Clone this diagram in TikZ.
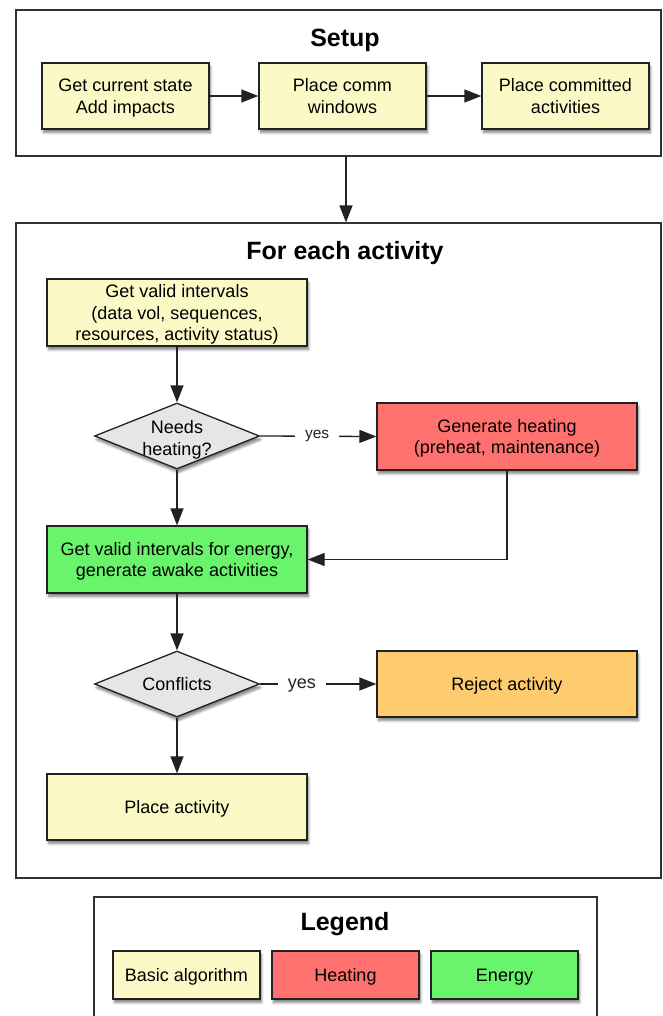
\documentclass[tikz,border=0pt]{standalone}
\usepackage{fontspec}
\setmainfont{Liberation Sans}
\usetikzlibrary{shapes.geometric,arrows.meta,shadows.blur}

\definecolor{basicfill}{RGB}{251,250,199}
\definecolor{heatfill}{RGB}{255,113,111}
\definecolor{energyfill}{RGB}{104,245,107}
\definecolor{rejectfill}{RGB}{254,204,110}
\definecolor{decfill}{RGB}{230,230,230}
\definecolor{edge}{RGB}{34,34,34}
\definecolor{framecol}{RGB}{50,50,50}

\tikzset{
  body/.style={font=\fontsize{18}{21.5}\selectfont, text depth=0pt},
  boxbase/.style={rectangle, draw=edge, line width=1.3pt, body, align=center,
    inner sep=0pt,
    blur shadow={shadow xshift=1.5pt, shadow yshift=-3.5pt, shadow blur radius=2.5pt,
      shadow blur steps=6, shadow opacity=50}},
  basicbox/.style={boxbase, fill=basicfill},
  heatbox/.style={boxbase, fill=heatfill},
  energybox/.style={boxbase, fill=energyfill},
  rejectbox/.style={boxbase, fill=rejectfill},
  decision/.style={diamond, draw=edge, line width=1.3pt, fill=decfill, inner sep=0pt,
    minimum width=165pt, minimum height=66pt,
    blur shadow={shadow xshift=1.5pt, shadow yshift=-3.5pt, shadow blur radius=2.5pt,
      shadow blur steps=6, shadow opacity=50}},
  frame/.style={rectangle, draw=framecol, line width=1.2pt, inner sep=0pt},
  title/.style={font=\fontsize{25}{30}\selectfont\bfseries},
  arr/.style={draw=edge, line width=1.3pt, -{Triangle[length=17pt,width=13pt]}},
  yeslabel/.style={fill=white, text=edge, inner xsep=10pt, inner ysep=2pt}
}

\begin{document}
\begin{tikzpicture}[x=1pt,y=-1pt]
\useasboundingbox (0,0) rectangle (662,1016);
\clip (0,0) rectangle (662,1016);

% Setup stage
\node[frame, minimum width=645pt, minimum height=146pt] (setup) at (338.5,83) {};
\node[title] (setuptitle) at (345,40) {Setup};
\node[basicbox, minimum width=167pt, minimum height=66pt] (state) at (125.5,96)
  {Get current state\\Add impacts};
\node[basicbox, minimum width=167pt, minimum height=66pt] (comm) at (342.5,96)
  {Place comm\\windows};
\node[basicbox, minimum width=167pt, minimum height=66pt] (committed) at (565.5,96)
  {Place committed\\activities};
\draw[arr] (state) -- (comm);
\draw[arr] (comm) -- (committed);

% Per-activity loop
\node[frame, minimum width=645pt, minimum height=655pt] (loop) at (338.5,550.5) {};
\node[title] (looptitle) at (345,253) {For each activity};
\draw[arr] ([xshift=7.5pt]setup.south) -- ([xshift=7.5pt]loop.north);

\node[basicbox, minimum width=260pt, minimum height=67pt] (valid) at (177,312.5)
  {Get valid intervals\\(data vol, sequences,\\resources, activity status)};

\node[decision] (heatq) at (177,436) {};
\node[body, align=center] (heatqtext) at (177,438) {Needs\\heating?};

\node[heatbox, minimum width=260pt, minimum height=67pt] (heat) at (507,436.5)
  {Generate heating\\(preheat, maintenance)};

\node[energybox, minimum width=260pt, minimum height=67pt] (energy) at (177,559.5)
  {Get valid intervals for energy,\\generate awake activities};

\node[decision] (conflict) at (177,684) {};
\node[body] (conflicttext) at (177,684) {Conflicts};

\node[rejectbox, minimum width=260pt, minimum height=66pt] (reject) at (507,684)
  {Reject activity};

\node[basicbox, minimum width=260pt, minimum height=66pt] (place) at (177,807)
  {Place activity};

\draw[arr] (valid) -- (heatq);
\draw[arr] (heatq.east) -- node[yeslabel, font=\fontsize{15.5}{18}\selectfont, pos=0.49] (yes1) {yes} (heat.west);
\draw[arr] (heatq) -- (energy);
\draw[arr] (heat.south) |- (energy.east);
\draw[arr] (energy) -- (conflict);
\draw[arr] (conflict.east) -- node[yeslabel, body, pos=0.36] (yes2) {yes} (reject.west);
\draw[arr] (conflict) -- (place);

% Legend
\node[frame, minimum width=503pt, minimum height=140pt] (legend) at (345.5,967) {};
\node[title] (legendtitle) at (345,924) {Legend};
\node[basicbox, minimum width=147pt, minimum height=48pt] (lbasic) at (186.5,975) {Basic algorithm};
\node[heatbox, minimum width=147pt, minimum height=48pt] (lheat) at (345.5,975) {Heating};
\node[energybox, minimum width=147pt, minimum height=48pt] (lenergy) at (504.5,975) {Energy};
\end{tikzpicture}
\end{document}
